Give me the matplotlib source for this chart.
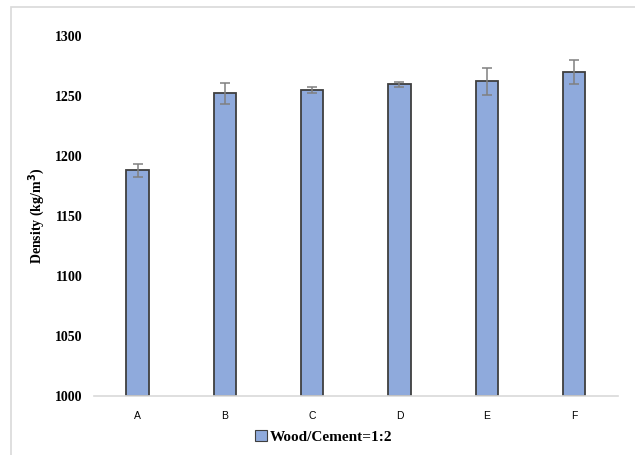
import matplotlib

matplotlib.use("Agg")
import matplotlib.pyplot as plt
from matplotlib.patches import Rectangle, Patch

mixes = ["A", "B", "C", "D", "E", "F"]
density = [1188, 1252, 1255, 1259.5, 1262, 1269.5]
density_err = [5.5, 9, 2.5, 2, 11, 10]
y_ticks = [1000, 1050, 1100, 1150, 1200, 1250, 1300]

BAR_COLOR = "#8FAADC"
SERIF = ["Liberation Serif", "DejaVu Serif"]

fig = plt.figure(figsize=(6.35, 4.55), dpi=100)
ax = fig.add_axes([0.148, 0.1303, 0.8246, 0.7912])

# light frame around the chart area
fig.patches.append(Rectangle((11 / 635, -0.1), 1.2, 1 - 7 / 455 + 0.1,
                             transform=fig.transFigure, fill=False,
                             edgecolor="#d9d9d9", linewidth=1.2))

x = range(len(mixes))
ax.bar(x, [d - 1000 for d in density], bottom=1000, width=0.255,
       color=BAR_COLOR, edgecolor="#3f3f3f", linewidth=1.3, zorder=2)
ax.errorbar(x, density, yerr=density_err, fmt="none", ecolor="#808080",
            elinewidth=1.1, capsize=3.5, capthick=1.1, zorder=3)

ax.set_xlim(-0.5, len(mixes) - 0.5)
ax.set_ylim(1000, 1300)
ax.set_yticks(y_ticks)
ax.set_yticklabels([str(t) for t in y_ticks], fontfamily=SERIF,
                   fontweight="bold", fontsize=10)
ax.set_xticks(list(x))
ax.set_xticklabels(mixes, fontfamily="Liberation Sans", fontsize=7.5)
ax.tick_params(axis="both", length=0)
ax.tick_params(axis="y", pad=8)
ax.tick_params(axis="x", pad=11)

for side in ["top", "right", "left"]:
    ax.spines[side].set_visible(False)
ax.spines["bottom"].set_color("#d9d9d9")
ax.spines["bottom"].set_linewidth(1.2)

ax.set_ylabel("Density (kg/m$\\mathbf{^3}$)", fontfamily=SERIF,
              fontweight="bold", fontsize=10)
ax.yaxis.set_label_coords(-0.09, 0.5)

handle = Patch(facecolor=BAR_COLOR, edgecolor="#3f3f3f", linewidth=0.8)
fig.legend([handle], ["Wood/Cement=1:2"], loc="center",
           bbox_to_anchor=(0.51, 1 - 437 / 455), frameon=False,
           handlelength=0.75, handleheight=0.75, handletextpad=0.2,
           prop={"family": SERIF, "weight": "bold", "size": 11})

plt.savefig("out.png", dpi=100)
